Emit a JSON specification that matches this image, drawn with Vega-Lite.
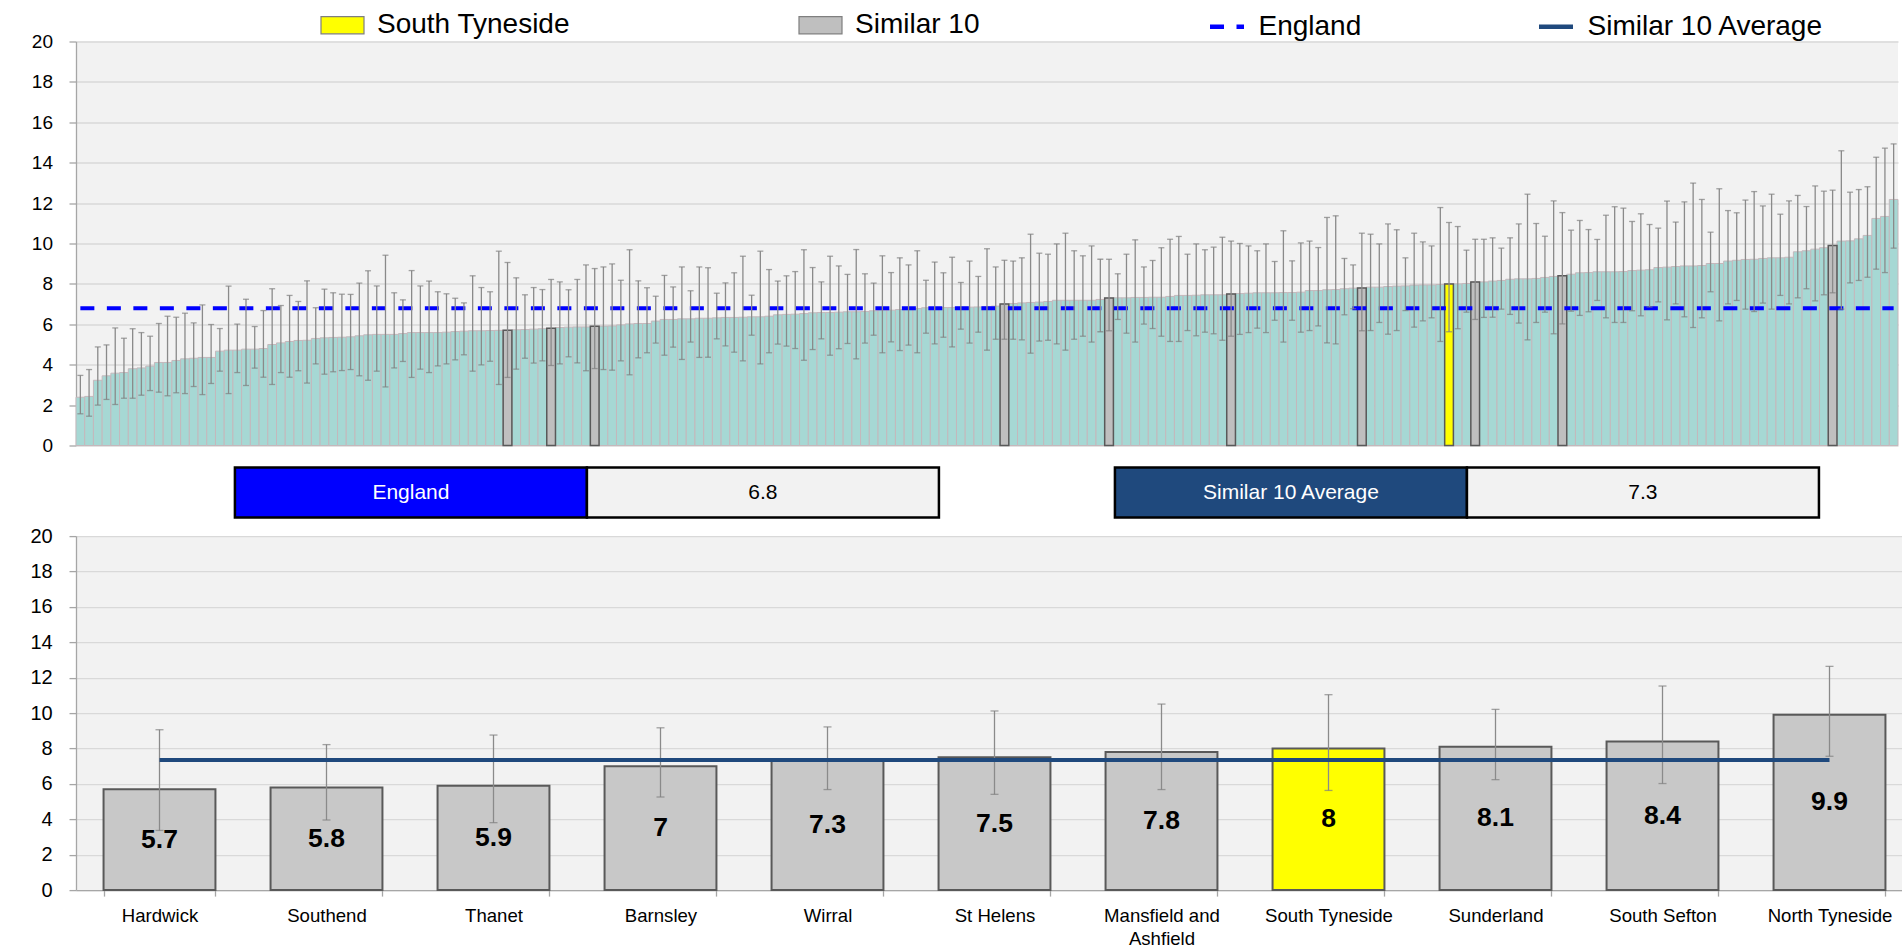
{
  "$schema": "https://vega.github.io/schema/vega-lite/v6.json",
  "background": "white",
  "padding": {"left": 17, "top": 2.5, "right": 0, "bottom": 0},
  "columns": 1,
  "align": "none",
  "spacing": 10,
  "datasets": {
    "ccg": [
      {"rank":1,"value":2.39,"lower":1.57,"upper":3.47},{"rank":2,"value":2.43,"lower":1.45,"upper":3.76},{"rank":3,"value":3.23,"lower":2.0,"upper":4.88},{"rank":4,"value":3.45,"lower":2.28,"upper":4.98},{"rank":5,"value":3.58,"lower":2.03,"upper":5.82},{"rank":6,"value":3.61,"lower":2.34,"upper":5.31},{"rank":7,"value":3.8,"lower":2.34,"upper":5.78},{"rank":8,"value":3.84,"lower":2.49,"upper":5.59},{"rank":9,"value":3.93,"lower":2.72,"upper":5.41},{"rank":10,"value":4.11,"lower":2.64,"upper":6.04},
      {"rank":11,"value":4.11,"lower":2.46,"upper":6.4},{"rank":12,"value":4.21,"lower":2.61,"upper":6.35},{"rank":13,"value":4.29,"lower":2.57,"upper":6.55},{"rank":14,"value":4.32,"lower":2.92,"upper":6.07},{"rank":15,"value":4.36,"lower":2.52,"upper":6.96},{"rank":16,"value":4.36,"lower":3.07,"upper":5.99},{"rank":17,"value":4.67,"lower":3.68,"upper":5.79},{"rank":18,"value":4.72,"lower":2.57,"upper":7.89},{"rank":19,"value":4.72,"lower":3.61,"upper":6.01},{"rank":20,"value":4.77,"lower":2.97,"upper":7.24},
      {"rank":21,"value":4.77,"lower":3.83,"upper":5.89},{"rank":22,"value":4.8,"lower":3.38,"upper":6.68},{"rank":23,"value":5.0,"lower":3.02,"upper":7.76},{"rank":24,"value":5.08,"lower":3.61,"upper":6.93},{"rank":25,"value":5.15,"lower":3.38,"upper":7.43},{"rank":26,"value":5.2,"lower":3.7,"upper":7.13},{"rank":27,"value":5.21,"lower":3.09,"upper":8.15},{"rank":28,"value":5.3,"lower":4.04,"upper":6.82},{"rank":29,"value":5.33,"lower":3.53,"upper":7.74},{"rank":30,"value":5.35,"lower":3.65,"upper":7.56},
      {"rank":31,"value":5.36,"lower":3.71,"upper":7.49},{"rank":32,"value":5.38,"lower":3.76,"upper":7.48},{"rank":33,"value":5.43,"lower":3.45,"upper":8.04},{"rank":34,"value":5.48,"lower":3.23,"upper":8.65},{"rank":35,"value":5.5,"lower":3.68,"upper":7.9},{"rank":36,"value":5.5,"lower":2.9,"upper":9.42},{"rank":37,"value":5.5,"lower":3.84,"upper":7.56},{"rank":38,"value":5.54,"lower":4.16,"upper":7.21},{"rank":39,"value":5.59,"lower":3.37,"upper":8.66},{"rank":40,"value":5.59,"lower":3.78,"upper":7.9},
      {"rank":41,"value":5.59,"lower":3.61,"upper":8.14},{"rank":42,"value":5.59,"lower":3.94,"upper":7.61},{"rank":43,"value":5.61,"lower":4.04,"upper":7.51},{"rank":44,"value":5.64,"lower":4.24,"upper":7.29},{"rank":45,"value":5.66,"lower":4.49,"upper":7.06},{"rank":46,"value":5.68,"lower":3.68,"upper":8.4},{"rank":47,"value":5.68,"lower":3.99,"upper":7.82},{"rank":48,"value":5.69,"lower":4.17,"upper":7.61},{"rank":49,"value":5.7,"lower":3.02,"upper":9.62},{"rank":50,"value":5.7,"lower":3.37,"upper":9.06,"group":"Similar 10","area":"Hardwick"},
      {"rank":51,"value":5.73,"lower":3.78,"upper":8.3},{"rank":52,"value":5.74,"lower":4.32,"upper":7.46},{"rank":53,"value":5.76,"lower":4.08,"upper":7.82},{"rank":54,"value":5.78,"lower":4.19,"upper":7.72},{"rank":55,"value":5.8,"lower":3.96,"upper":8.22,"group":"Similar 10","area":"Southend"},{"rank":56,"value":5.84,"lower":4.04,"upper":8.1},{"rank":57,"value":5.86,"lower":4.39,"upper":7.71},{"rank":58,"value":5.87,"lower":4.09,"upper":8.22},{"rank":59,"value":5.87,"lower":3.7,"upper":8.94},{"rank":60,"value":5.9,"lower":3.81,"upper":8.76,"group":"Similar 10","area":"Thanet"},
      {"rank":61,"value":5.91,"lower":3.76,"upper":8.84},{"rank":62,"value":5.92,"lower":3.73,"upper":8.99},{"rank":63,"value":5.97,"lower":4.19,"upper":8.18},{"rank":64,"value":6.02,"lower":3.5,"upper":9.69},{"rank":65,"value":6.04,"lower":4.34,"upper":8.15},{"rank":66,"value":6.04,"lower":4.59,"upper":7.81},{"rank":67,"value":6.16,"lower":5.07,"upper":7.39},{"rank":68,"value":6.24,"lower":4.47,"upper":8.42},{"rank":69,"value":6.24,"lower":4.87,"upper":7.85},{"rank":70,"value":6.27,"lower":4.26,"upper":8.84},
      {"rank":71,"value":6.27,"lower":5.12,"upper":7.66},{"rank":72,"value":6.3,"lower":4.36,"upper":8.84},{"rank":73,"value":6.3,"lower":4.37,"upper":8.8},{"rank":74,"value":6.32,"lower":5.28,"upper":7.54},{"rank":75,"value":6.34,"lower":4.93,"upper":8.05},{"rank":76,"value":6.34,"lower":4.62,"upper":8.55},{"rank":77,"value":6.35,"lower":4.19,"upper":9.37},{"rank":78,"value":6.37,"lower":5.46,"upper":7.44},{"rank":79,"value":6.37,"lower":4.04,"upper":9.62},{"rank":80,"value":6.4,"lower":4.59,"upper":8.71},
      {"rank":81,"value":6.47,"lower":5.02,"upper":8.14},{"rank":82,"value":6.49,"lower":4.92,"upper":8.4},{"rank":83,"value":6.5,"lower":4.8,"upper":8.61},{"rank":84,"value":6.53,"lower":4.22,"upper":9.69},{"rank":85,"value":6.57,"lower":4.75,"upper":8.81},{"rank":86,"value":6.58,"lower":5.28,"upper":8.1},{"rank":87,"value":6.58,"lower":4.47,"upper":9.37},{"rank":88,"value":6.6,"lower":4.79,"upper":8.89},{"rank":89,"value":6.62,"lower":5.05,"upper":8.47},{"rank":90,"value":6.62,"lower":4.29,"upper":9.7},
      {"rank":91,"value":6.63,"lower":5.07,"upper":8.5},{"rank":92,"value":6.67,"lower":5.46,"upper":8.04},{"rank":93,"value":6.7,"lower":4.59,"upper":9.39},{"rank":94,"value":6.7,"lower":5.13,"upper":8.56},{"rank":95,"value":6.73,"lower":4.7,"upper":9.29},{"rank":96,"value":6.75,"lower":4.97,"upper":8.94},{"rank":97,"value":6.78,"lower":4.59,"upper":9.64},{"rank":98,"value":6.82,"lower":5.56,"upper":8.18},{"rank":99,"value":6.83,"lower":5.03,"upper":9.08},{"rank":100,"value":6.83,"lower":5.36,"upper":8.55},
      {"rank":101,"value":6.83,"lower":4.88,"upper":9.32},{"rank":102,"value":6.85,"lower":5.76,"upper":8.07},{"rank":103,"value":6.85,"lower":5.07,"upper":9.13},{"rank":104,"value":6.86,"lower":5.61,"upper":8.37},{"rank":105,"value":6.88,"lower":4.72,"upper":9.74},{"rank":106,"value":6.9,"lower":5.26,"upper":8.84},{"rank":107,"value":7.0,"lower":5.26,"upper":9.17,"group":"Similar 10","area":"Barnsley"},{"rank":108,"value":7.03,"lower":5.26,"upper":9.13},{"rank":109,"value":7.06,"lower":5.23,"upper":9.29},{"rank":110,"value":7.08,"lower":4.57,"upper":10.46},
      {"rank":111,"value":7.1,"lower":5.17,"upper":9.52},{"rank":112,"value":7.13,"lower":5.21,"upper":9.47},{"rank":113,"value":7.19,"lower":5.03,"upper":9.98},{"rank":114,"value":7.19,"lower":4.72,"upper":10.51},{"rank":115,"value":7.19,"lower":5.26,"upper":9.64},{"rank":116,"value":7.19,"lower":5.41,"upper":9.39},{"rank":117,"value":7.19,"lower":5.12,"upper":9.88},{"rank":118,"value":7.23,"lower":5.63,"upper":9.22},{"rank":119,"value":7.3,"lower":5.68,"upper":9.22,"group":"Similar 10","area":"Wirral"},{"rank":120,"value":7.31,"lower":6.24,"upper":8.5},
      {"rank":121,"value":7.31,"lower":5.56,"upper":9.47},{"rank":122,"value":7.33,"lower":5.12,"upper":10.18},{"rank":123,"value":7.33,"lower":6.01,"upper":8.84},{"rank":124,"value":7.34,"lower":5.79,"upper":9.16},{"rank":125,"value":7.34,"lower":5.41,"upper":9.79},{"rank":126,"value":7.38,"lower":5.15,"upper":10.21},{"rank":127,"value":7.43,"lower":5.15,"upper":10.35},{"rank":128,"value":7.43,"lower":5.69,"upper":9.47},{"rank":129,"value":7.44,"lower":5.43,"upper":9.98},{"rank":130,"value":7.46,"lower":5.61,"upper":9.69},
      {"rank":131,"value":7.46,"lower":5.53,"upper":9.82},{"rank":132,"value":7.46,"lower":5.21,"upper":10.31},{"rank":133,"value":7.5,"lower":5.41,"upper":10.12,"group":"Similar 10","area":"St Helens"},{"rank":134,"value":7.52,"lower":5.5,"upper":10.0},{"rank":135,"value":7.54,"lower":5.59,"upper":9.88},{"rank":136,"value":7.56,"lower":5.81,"upper":9.64},{"rank":137,"value":7.56,"lower":5.59,"upper":9.98},{"rank":138,"value":7.56,"lower":6.2,"upper":9.11},{"rank":139,"value":7.57,"lower":5.12,"upper":10.63},{"rank":140,"value":7.57,"lower":6.2,"upper":9.14},
      {"rank":141,"value":7.59,"lower":5.61,"upper":10.03},{"rank":142,"value":7.67,"lower":5.69,"upper":10.12},{"rank":143,"value":7.67,"lower":5.92,"upper":9.8},{"rank":144,"value":7.71,"lower":5.08,"upper":11.29},{"rank":145,"value":7.72,"lower":5.03,"upper":11.37},{"rank":146,"value":7.76,"lower":6.47,"upper":9.26},{"rank":147,"value":7.79,"lower":6.77,"upper":8.94},{"rank":148,"value":7.8,"lower":5.68,"upper":10.51,"group":"Similar 10","area":"Mansfield and Ashfield"},{"rank":149,"value":7.84,"lower":5.69,"upper":10.46},{"rank":150,"value":7.84,"lower":6.09,"upper":9.98},
      {"rank":151,"value":7.87,"lower":5.51,"upper":10.97},{"rank":152,"value":7.89,"lower":5.69,"upper":10.68},{"rank":153,"value":7.9,"lower":6.68,"upper":9.29},{"rank":154,"value":7.94,"lower":5.86,"upper":10.51},{"rank":155,"value":7.95,"lower":6.17,"upper":10.08},{"rank":156,"value":7.95,"lower":6.32,"upper":9.88},{"rank":157,"value":7.97,"lower":5.15,"upper":11.78},{"rank":158,"value":8.0,"lower":5.63,"upper":11.04,"group":"South Tyneside","area":"South Tyneside"},{"rank":159,"value":8.0,"lower":5.78,"upper":10.84},{"rank":160,"value":8.02,"lower":6.6,"upper":9.67},
      {"rank":161,"value":8.1,"lower":6.24,"upper":10.21,"group":"Similar 10","area":"Sunderland"},{"rank":162,"value":8.1,"lower":6.34,"upper":10.21},{"rank":163,"value":8.14,"lower":6.35,"upper":10.28},{"rank":164,"value":8.17,"lower":6.75,"upper":9.77},{"rank":165,"value":8.23,"lower":6.49,"upper":10.28},{"rank":166,"value":8.25,"lower":6.06,"upper":10.97},{"rank":167,"value":8.25,"lower":5.23,"upper":12.44},{"rank":168,"value":8.27,"lower":6.09,"upper":10.99},{"rank":169,"value":8.32,"lower":6.6,"upper":10.36},{"rank":170,"value":8.37,"lower":5.53,"upper":12.11},
      {"rank":171,"value":8.4,"lower":6.02,"upper":11.53,"group":"Similar 10","area":"South Sefton"},{"rank":172,"value":8.48,"lower":6.65,"upper":10.66},{"rank":173,"value":8.55,"lower":6.44,"upper":11.14},{"rank":174,"value":8.56,"lower":6.62,"upper":10.69},{"rank":175,"value":8.6,"lower":7.18,"upper":10.2},{"rank":176,"value":8.6,"lower":6.32,"upper":11.4},{"rank":177,"value":8.6,"lower":6.09,"upper":11.82},{"rank":178,"value":8.61,"lower":6.09,"upper":11.75},{"rank":179,"value":8.66,"lower":6.67,"upper":11.09},{"rank":180,"value":8.68,"lower":6.42,"upper":11.47},
      {"rank":181,"value":8.7,"lower":6.86,"upper":10.94},{"rank":182,"value":8.81,"lower":7.11,"upper":10.76},{"rank":183,"value":8.83,"lower":6.22,"upper":12.1},{"rank":184,"value":8.86,"lower":7.01,"upper":11.06},{"rank":185,"value":8.89,"lower":6.37,"upper":12.06},{"rank":186,"value":8.89,"lower":5.84,"upper":12.99},{"rank":187,"value":8.91,"lower":6.32,"upper":12.18},{"rank":188,"value":9.01,"lower":7.61,"upper":10.56},{"rank":189,"value":9.01,"lower":6.17,"upper":12.71},{"rank":190,"value":9.13,"lower":7.01,"upper":11.63},
      {"rank":191,"value":9.17,"lower":7.18,"upper":11.52},{"rank":192,"value":9.21,"lower":6.75,"upper":12.15},{"rank":193,"value":9.22,"lower":6.63,"upper":12.57},{"rank":194,"value":9.26,"lower":7.05,"upper":11.86},{"rank":195,"value":9.29,"lower":6.75,"upper":12.44},{"rank":196,"value":9.29,"lower":7.43,"upper":11.45},{"rank":197,"value":9.32,"lower":7.01,"upper":12.11},{"rank":198,"value":9.59,"lower":7.31,"upper":12.38},{"rank":199,"value":9.64,"lower":7.76,"upper":11.83},{"rank":200,"value":9.72,"lower":7.16,"upper":12.85},
      {"rank":201,"value":9.79,"lower":7.46,"upper":12.59},{"rank":202,"value":9.9,"lower":7.56,"upper":12.64,"group":"Similar 10","area":"North Tyneside"},{"rank":203,"value":10.12,"lower":6.75,"upper":14.59},{"rank":204,"value":10.13,"lower":8.05,"upper":12.54},{"rank":205,"value":10.23,"lower":8.17,"upper":12.67},{"rank":206,"value":10.4,"lower":8.33,"upper":12.81},{"rank":207,"value":11.24,"lower":8.73,"upper":14.27},{"rank":208,"value":11.34,"lower":8.56,"upper":14.72},{"rank":209,"value":12.18,"lower":9.77,"upper":14.93}
    ],
    "englandLine": [
      {"series":"England","rank":1,"value":6.8},
      {"series":"England","rank":209,"value":6.8}
    ],
    "similar": [
      {"area":"Hardwick","value":5.7,"lower":3.37,"upper":9.06},
      {"area":"Southend","value":5.8,"lower":3.96,"upper":8.22},
      {"area":"Thanet","value":5.9,"lower":3.81,"upper":8.76},
      {"area":"Barnsley","value":7.0,"lower":5.26,"upper":9.17},
      {"area":"Wirral","value":7.3,"lower":5.68,"upper":9.22},
      {"area":"St Helens","value":7.5,"lower":5.41,"upper":10.12},
      {"area":"Mansfield and Ashfield","value":7.8,"lower":5.68,"upper":10.51},
      {"area":"South Tyneside","value":8.0,"lower":5.63,"upper":11.04},
      {"area":"Sunderland","value":8.1,"lower":6.24,"upper":10.21},
      {"area":"South Sefton","value":8.4,"lower":6.02,"upper":11.53},
      {"area":"North Tyneside","value":9.9,"lower":7.56,"upper":12.64}
    ],
    "boxes": [
      {"measure":"England","part":"name","label":"England"},
      {"measure":"England","part":"value","label":"6.8"},
      {"measure":"Similar 10 Average","part":"name","label":"Similar 10 Average"},
      {"measure":"Similar 10 Average","part":"value","label":"7.3"}
    ]
  },
  "concat": [
    {
      "width": 1822,
      "height": 404,
      "data": {"name": "ccg"},
      "view": {"fill": "#F2F2F2", "stroke": null},
      "encoding": {
        "x": {"field": "rank", "type": "ordinal", "scale": {"paddingInner": 0, "paddingOuter": 0},
              "axis": {"labels": false, "ticks": false, "domain": false, "title": null, "grid": false}}
      },
      "layer": [
        {
          "mark": {"type": "bar", "fill": "#A6D8D4", "stroke": "#C4B8BC", "strokeWidth": 1},
          "encoding": {
            "y": {"field": "value", "type": "quantitative", "scale": {"domain": [0, 20], "nice": false},
                  "axis": {"title": " ", "titleFontSize": 1, "titlePadding": 13, "values": [0,2,4,6,8,10,12,14,16,18,20], "tickCount": 12,
                           "tickSize": 7, "labelPadding": 16.5, "labelFontSize": 19, "labelFlush": false, "labelOverlap": false}}
          }
        },
        {
          "transform": [{"filter": "isValid(datum.group)"}],
          "mark": {"type": "bar", "stroke": "#595959", "strokeWidth": 1.5},
          "encoding": {
            "y": {"field": "value", "type": "quantitative"},
            "color": {
              "field": "group", "type": "nominal",
              "scale": {"domain": ["South Tyneside", "Similar 10"], "range": ["#FFFF00", "#BFBFBF"]},
              "legend": {
                "title": null, "orient": "none", "legendX": 244, "legendY": -39,
                "direction": "horizontal", "columnPadding": 225, "padding": 0,
                "symbolType": "M-1,-0.4H1V0.4H-1Z", "symbolSize": 1849,
                "symbolStrokeColor": "#7F7F7F", "symbolStrokeWidth": 1.2, "symbolOpacity": 1,
                "labelFontSize": 28, "labelOffset": 12, "labelLimit": 400,
                "labelColor": "#000000", "labelBaseline": "middle"
              }
            }
          }
        },
        {
          "data": {"name": "englandLine"},
          "mark": {"type": "line", "strokeWidth": 4},
          "encoding": {
            "y": {"field": "value", "type": "quantitative"},
            "stroke": {
              "field": "series", "type": "nominal",
              "scale": {"domain": ["England", "Similar 10 Average"], "range": ["#0000FF", "#1F497D"]},
              "legend": {
                "title": null, "orient": "none", "legendX": 1131.5, "legendY": -34.5,
                "direction": "horizontal", "columnPadding": 168, "padding": 0,
                "symbolType": "stroke", "symbolSize": 1156, "symbolStrokeWidth": 4.5, "symbolOpacity": 1,
                "labelFontSize": 28, "labelOffset": 12, "labelLimit": 400,
                "labelColor": "#000000", "labelBaseline": "middle"
              }
            },
            "strokeDash": {
              "field": "series", "type": "nominal",
              "scale": {"domain": ["England", "Similar 10 Average"], "range": [[14, 12.5], [1, 0]]},
              "legend": {
                "title": null, "orient": "none", "legendX": 1131.5, "legendY": -34.5,
                "direction": "horizontal", "columnPadding": 168, "padding": 0,
                "symbolType": "stroke", "symbolSize": 1156, "symbolStrokeWidth": 4.5, "symbolOpacity": 1,
                "labelFontSize": 28, "labelOffset": 12, "labelLimit": 400,
                "labelColor": "#000000", "labelBaseline": "middle"
              }
            }
          }
        },
        {
          "mark": {"type": "rule", "color": "#8A8A8A", "strokeWidth": 1.3},
          "encoding": {"y": {"field": "lower", "type": "quantitative"}, "y2": {"field": "upper"}}
        },
        {
          "mark": {"type": "tick", "color": "#7F7F7F", "thickness": 1.3, "size": 6},
          "encoding": {"y": {"field": "upper", "type": "quantitative"}}
        },
        {
          "mark": {"type": "tick", "color": "#7F7F7F", "thickness": 1.3, "size": 6},
          "encoding": {"y": {"field": "lower", "type": "quantitative"}}
        }
      ]
    },
    {
      "columns": 1,
      "align": "none",
      "spacing": 6.6,
      "concat": [
        {
          "width": 1885,
          "height": 50,
          "data": {"name": "boxes"},
          "view": {"stroke": null},
          "encoding": {
            "x": {"field": "measure", "type": "nominal", "sort": null,
                  "scale": {"paddingInner": 0.2, "paddingOuter": 0.171, "align": 0.528}, "axis": null},
            "xOffset": {"field": "part", "type": "nominal", "sort": ["name", "value"],
                        "scale": {"paddingInner": 0, "paddingOuter": 0}}
          },
          "layer": [
            {
              "mark": {"type": "bar", "stroke": "#000000", "strokeWidth": 2.5},
              "encoding": {
                "color": {"condition": [{"test": "datum.part == 'value'", "value": "#F2F2F2"},
                                        {"test": "datum.measure == 'England'", "value": "#0000FF"}],
                          "value": "#1F497D"}
              }
            },
            {
              "mark": {"type": "text", "fontSize": 21, "baseline": "middle"},
              "encoding": {
                "text": {"field": "label", "type": "nominal"},
                "color": {"condition": {"test": "datum.part == 'value'", "value": "#000000"}, "value": "#FFFFFF"}
              }
            }
          ]
        },
        {
          "width": 1837,
          "height": 354,
          "data": {"name": "similar"},
          "view": {"fill": "#F2F2F2", "stroke": null},
          "encoding": {
            "x": {"field": "area", "type": "nominal",
                  "sort": ["Hardwick", "Southend", "Thanet", "Barnsley", "Wirral", "St Helens", "Mansfield and Ashfield", "South Tyneside", "Sunderland", "South Sefton", "North Tyneside"],
                  "scale": {"paddingInner": 0.33, "paddingOuter": 0.165},
                  "axis": {"title": null, "labelAngle": 0, "labelFontSize": 18.6, "tickBand": "extent", "tickSize": 6,
                           "labelPadding": 10, "labelLineHeight": 23, "grid": false,
                           "labelExpr": "datum.label == 'Mansfield and Ashfield' ? ['Mansfield and', 'Ashfield'] : datum.label"}}
          },
          "layer": [
            {
              "mark": {"type": "bar", "stroke": "#595959", "strokeWidth": 2},
              "encoding": {
                "y": {"field": "value", "type": "quantitative", "scale": {"domain": [0, 20], "nice": false},
                      "axis": {"title": null, "values": [0,2,4,6,8,10,12,14,16,18,20], "tickCount": 12,
                               "tickSize": 7, "labelPadding": 16.8, "labelFontSize": 20, "labelFlush": false, "labelOverlap": false, "labelSeparation": -6}},
                "color": {"condition": {"test": "datum.area == 'South Tyneside'", "value": "#FFFF00"}, "value": "#C8C8C8"}
              }
            },
            {
              "mark": {"type": "rule", "color": "#8A8A8A", "strokeWidth": 1.3},
              "encoding": {"y": {"field": "lower", "type": "quantitative"}, "y2": {"field": "upper"}}
            },
            {
              "mark": {"type": "tick", "color": "#7F7F7F", "thickness": 1.3, "size": 8},
              "encoding": {"y": {"field": "upper", "type": "quantitative"}}
            },
            {
              "mark": {"type": "tick", "color": "#7F7F7F", "thickness": 1.3, "size": 8},
              "encoding": {"y": {"field": "lower", "type": "quantitative"}}
            },
            {
              "mark": {"type": "line", "color": "#1F497D", "strokeWidth": 4},
              "encoding": {"y": {"datum": 7.35}}
            },
            {
              "transform": [
                {"stack": "value", "groupby": ["area"], "as": ["base", "top"]},
                {"fold": ["base", "top"], "as": ["end", "pos"]}
              ],
              "mark": {"type": "text", "fontSize": 26.5, "fontWeight": "bold", "baseline": "middle", "color": "#000000"},
              "encoding": {
                "text": {"aggregate": "max", "field": "pos", "type": "quantitative"},
                "y": {"aggregate": "mean", "field": "pos", "type": "quantitative"}
              }
            }
          ]
        }
      ]
    }
  ],
  "config": {
    "font": "Liberation Sans",
    "view": {"stroke": null},
    "axis": {
      "labelColor": "#000000",
      "domainColor": "#A6A6A6",
      "tickColor": "#A6A6A6",
      "gridColor": "#D9D9D9",
      "gridWidth": 1.3,
      "domainWidth": 1.3,
      "tickWidth": 1.3
    }
  }
}
